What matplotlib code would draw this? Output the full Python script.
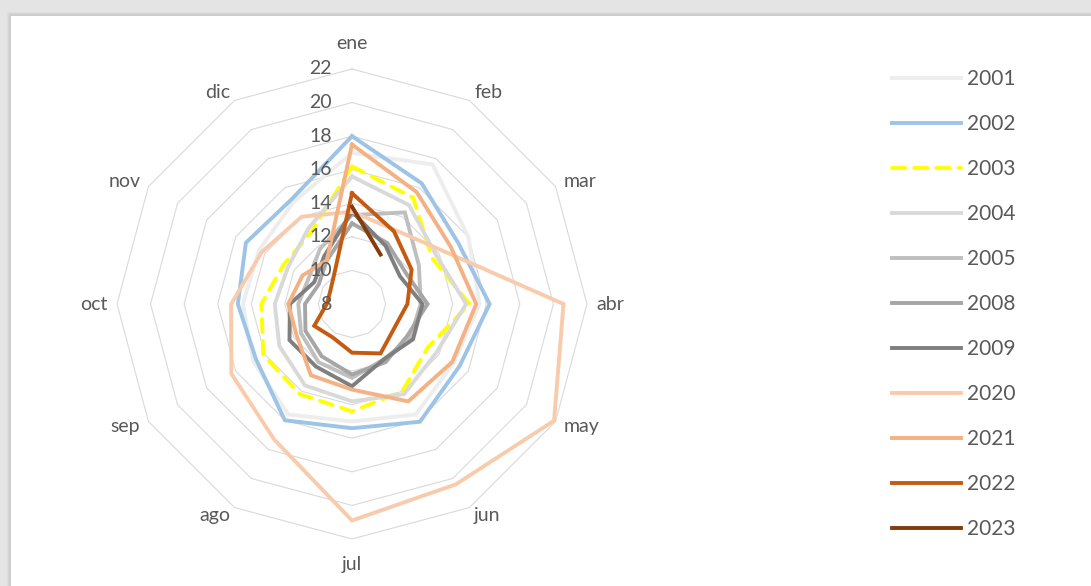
import numpy as np
import matplotlib
matplotlib.use('Agg')
import matplotlib.pyplot as plt
from matplotlib import transforms
from matplotlib.patches import Rectangle

plt.rcParams['font.family'] = ['Lato', 'DejaVu Sans']

meses = ['ene', 'feb', 'mar', 'abr', 'may', 'jun', 'jul', 'ago', 'sep', 'oct', 'nov', 'dic']
ticks = [8, 10, 12, 14, 16, 18, 20, 22]

# valores por mes (ene..dic)
v2001 = [17.0, 17.6, 16.0, 15.6, 15.0, 15.6, 15.0, 15.6, 14.8, 14.5, 14.4, 15.0]
v2002 = [18.0, 16.3, 15.3, 16.2, 15.4, 16.1, 15.4, 16.0, 14.6, 14.8, 15.3, 15.2]
v2003 = [16.2, 15.3, 13.5, 15.0, 13.2, 14.0, 14.4, 14.2, 14.1, 13.4, 12.7, 12.9]
v2004 = [15.6, 14.8, 13.8, 14.8, 13.8, 14.2, 13.8, 13.6, 13.0, 12.6, 12.4, 13.2]
v2005 = [13.3, 14.3, 12.6, 12.1, 12.0, 11.8, 12.4, 12.0, 11.5, 11.2, 11.0, 11.8]
v2008 = [12.8, 12.2, 11.7, 12.5, 11.8, 12.0, 12.2, 11.6, 11.2, 10.8, 10.3, 11.0]
v2009 = [13.5, 12.0, 11.3, 12.2, 12.2, 11.8, 12.9, 12.3, 12.3, 11.7, 10.6, 11.3]
v2020 = [13.5, 13.1, 14.3, 20.6, 21.9, 20.4, 20.9, 17.3, 16.3, 15.2, 14.2, 14.0]
v2021 = [17.5, 15.7, 14.8, 15.4, 14.9, 14.7, 13.1, 12.9, 11.8, 11.8, 11.4, 11.0]
v2022 = [14.6, 13.0, 12.1, 11.3, 10.9, 11.4, 10.9, 10.3, 10.6, 9.5, 9.5, 10.1]
v2023 = [13.8, 11.4] + [None] * 10

series = [
    ('2001', v2001, '#EDEDED', '-'),
    ('2002', v2002, '#9DC3E6', '-'),
    ('2003', v2003, '#FFFF00', '--'),
    ('2004', v2004, '#D9D9D9', '-'),
    ('2005', v2005, '#BFBFBF', '-'),
    ('2008', v2008, '#A6A6A6', '-'),
    ('2009', v2009, '#7F7F7F', '-'),
    ('2020', v2020, '#F8CBAD', '-'),
    ('2021', v2021, '#F4B183', '-'),
    ('2022', v2022, '#C55A11', '-'),
    ('2023', v2023, '#843C0C', '-'),
]

W, H = 1091, 586
fig = plt.figure(figsize=(W / 100, H / 100), dpi=100)
fig.patch.set_facecolor('#e4e4e4')
# tarjeta blanca con sombra
for i, a in enumerate([0.10, 0.08, 0.06]):
    fig.patches.append(Rectangle(((9 - i) / W, 0), 1, (H - 14 + i) / H,
                                 transform=fig.transFigure, color='#808080',
                                 alpha=a, lw=0, zorder=-5))
fig.patches.append(Rectangle((11 / W, 0), 1, (H - 16) / H,
                             transform=fig.transFigure, color='white', lw=0,
                             zorder=-4))

cx, cy, R = 352, 304, 235
ax = fig.add_axes([(cx - R) / W, (H - cy - R) / H, 2 * R / W, 2 * R / H],
                  projection='polar')
ax.set_facecolor('none')
ax.set_theta_zero_location('N')
ax.set_theta_direction(-1)
ax.set_ylim(8, 22)
ax.set_xticks([])
ax.set_yticks([])
ax.grid(False)
ax.spines['polar'].set_visible(False)

theta = np.arange(12) * 2 * np.pi / 12
theta_c = np.append(theta, theta[0])

for t in ticks[1:]:
    ax.plot(theta_c, [t] * 13, color='#D9D9D9', lw=0.8, zorder=1, clip_on=False)

handles = []
for name, vals, col, ls in series:
    v = np.array([np.nan if x is None else x for x in vals], dtype=float)
    v = np.append(v, v[0])
    if ls == '--':
        ln, = ax.plot(theta_c, v, color=col, lw=2.8, dashes=(3.4, 2.3),
                      dash_capstyle='round', clip_on=False, zorder=2)
    else:
        ln, = ax.plot(theta_c, v, color=col, lw=2.8, solid_joinstyle='miter',
                      clip_on=False, zorder=2)
    ln.set_label(name)
    handles.append(ln)

txt = '#595959'
for th, m in zip(theta, meses):
    s = np.sin(th)
    if abs(s) < 0.1:
        ax.text(th, 23.5, m, ha='center', va='center', fontsize=14, color=txt)
    else:
        ax.text(th, 22.55, m, ha='left' if s > 0 else 'right', va='center',
                fontsize=14, color=txt)

off = transforms.offset_copy(ax.transData, fig=fig, x=-20, y=0, units='dots')
for t in ticks:
    ax.text(0, t, str(t), transform=off, ha='right', va='center',
            fontsize=14, color=txt)

fig.legend(handles=handles, loc='center left', bbox_to_anchor=(873 / W, 0.481),
           frameon=False, fontsize=15, labelcolor=txt, handlelength=3.3,
           handletextpad=0.3, labelspacing=1.2)

fig.savefig('out.png', dpi=100)
